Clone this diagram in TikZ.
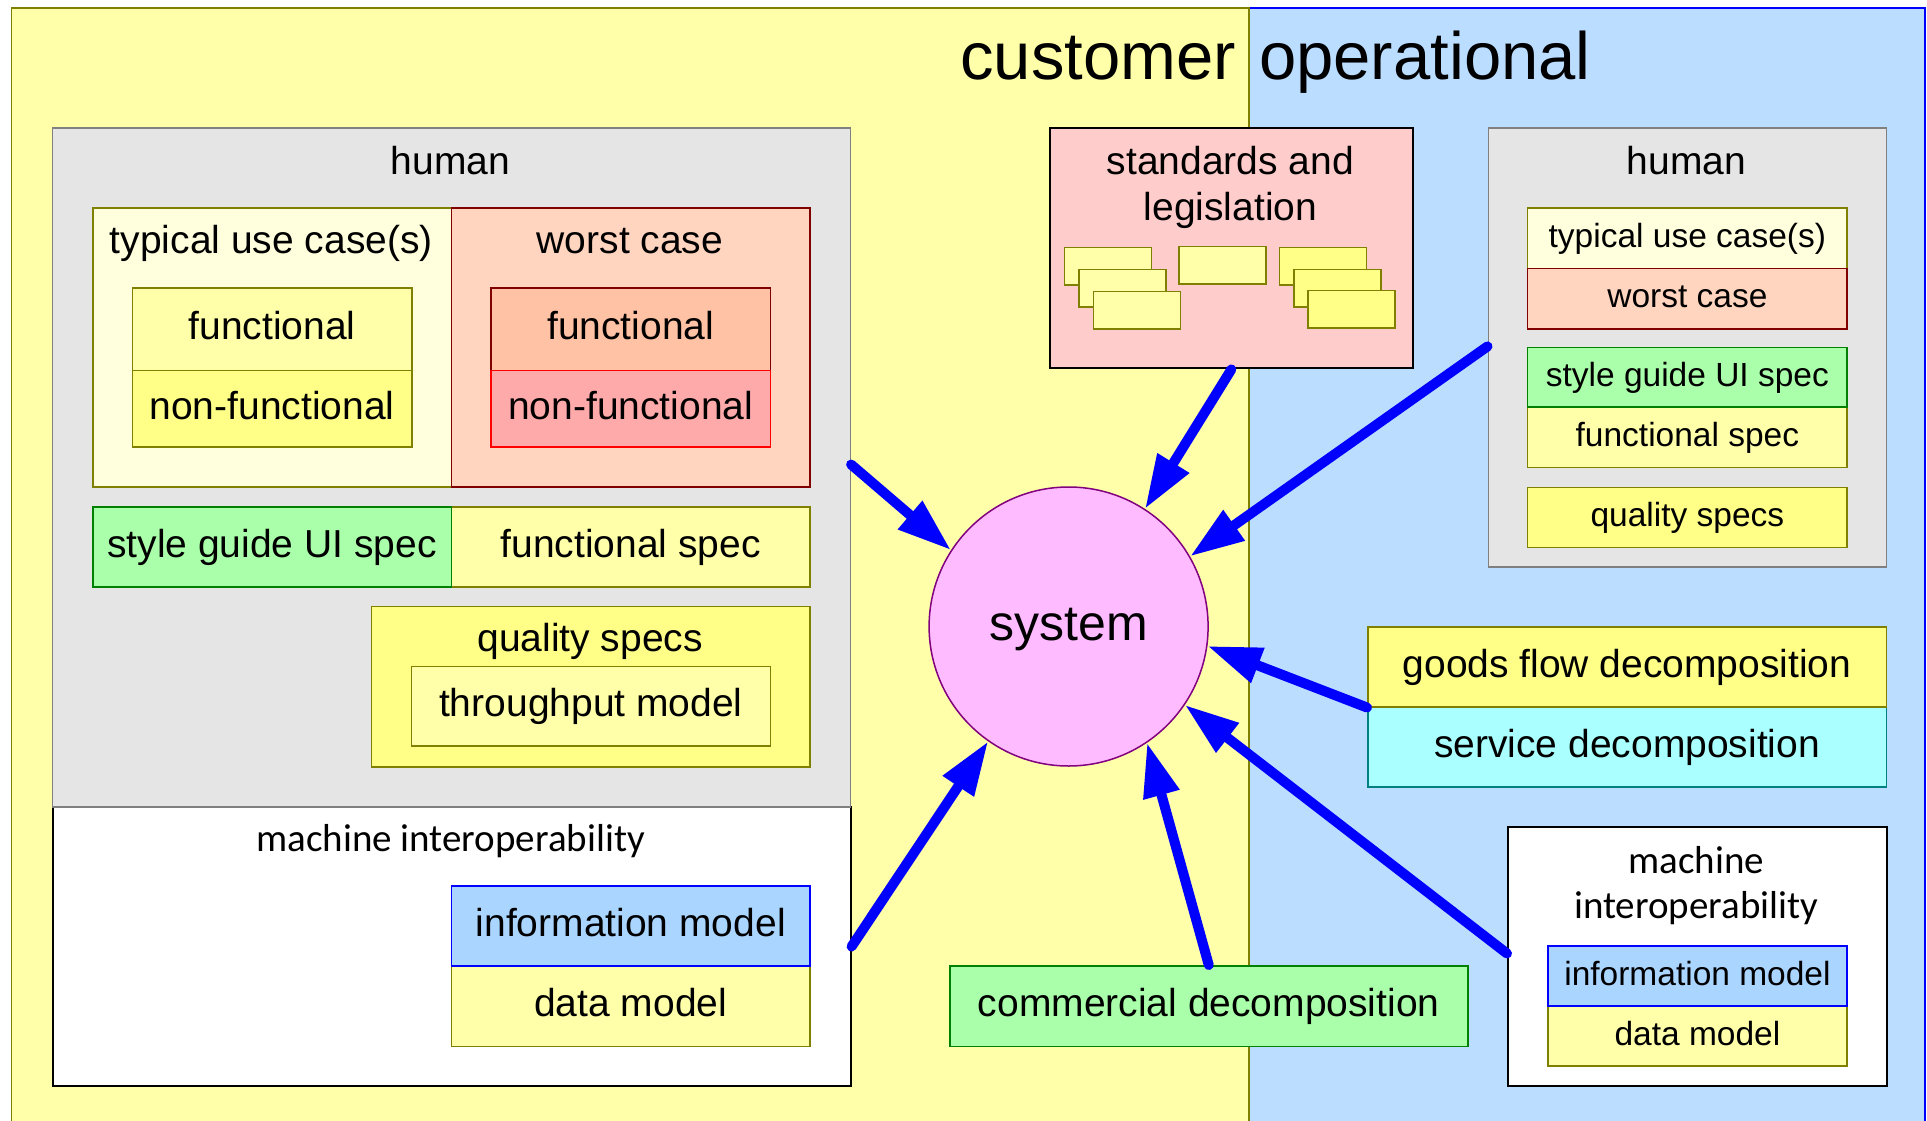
\documentclass[tikz,border=0pt]{standalone}
\usepackage{fontspec}
\setmainfont{Liberation Sans}
\newfontfamily\carlito{Carlito}
\usetikzlibrary{arrows.meta,calc}

\definecolor{cBgYel}{RGB}{255,255,170}
\definecolor{cBgBlue}{RGB}{187,221,255}
\definecolor{cOlive}{RGB}{128,128,0}
\definecolor{cPaleYel}{RGB}{255,255,221}
\definecolor{cYel}{RGB}{255,255,170}
\definecolor{cYelS}{RGB}{255,255,136}
\definecolor{cPeach}{RGB}{255,213,192}
\definecolor{cSalmon}{RGB}{255,194,164}
\definecolor{cPink}{RGB}{255,170,170}
\definecolor{cDarkRed}{RGB}{128,0,0}
\definecolor{cRed}{RGB}{255,0,0}
\definecolor{cGreenF}{RGB}{170,255,170}
\definecolor{cGreenD}{RGB}{0,128,0}
\definecolor{cCyanF}{RGB}{170,255,255}
\definecolor{cTeal}{RGB}{0,128,128}
\definecolor{cInfo}{RGB}{170,213,255}
\definecolor{cBlueD}{RGB}{0,0,255}
\definecolor{cGrayF}{RGB}{229,229,229}
\definecolor{cGrayD}{RGB}{128,128,128}
\definecolor{cStd}{RGB}{255,204,204}
\definecolor{cSysF}{RGB}{255,187,255}
\definecolor{cSysD}{RGB}{128,0,128}

\tikzset{
  bx/.style={rectangle, draw, inner sep=0pt, anchor=north west, line width=1.5pt},
  big/.style={font=\fontsize{39}{46}\selectfont, text height=28pt, text depth=7pt},
  small/.style={font=\fontsize{33.5}{40}\selectfont, text height=24.4pt, text depth=6pt},
  ttl/.style={font=\fontsize{39}{46}\selectfont, anchor=base, inner sep=0pt},
  cal/.style={font=\carlito\fontsize{39}{46}\selectfont, anchor=base, inner sep=0pt},
  yel/.style={fill=cYel, draw=cOlive},
  yels/.style={fill=cYelS, draw=cOlive},
  paleyel/.style={fill=cPaleYel, draw=cOlive},
  peach/.style={fill=cPeach, draw=cDarkRed},
  green/.style={fill=cGreenF, draw=cGreenD},
  infobox/.style={fill=cInfo, draw=cBlueD},
  graybox/.style={fill=cGrayF, draw=cGrayD},
  whitebox/.style={fill=white, draw=black, line width=2pt},
  note/.style={bx, minimum width=87pt, minimum height=37.5pt},
  arr/.style={draw=cBlueD, line width=10pt, line cap=round,
    -{Triangle[length=54pt,width=35pt]}},
}

\begin{document}
\begin{tikzpicture}[x=1pt, y=-1pt]
\useasboundingbox (0,0) rectangle (1927,1121);

% the two domains
\path[fill=cBgBlue, draw=cBlueD, line width=1.5pt] (1249,8) rectangle (1925,1130);
\path[fill=cBgYel, draw=cOlive, line width=1.5pt] (11.5,8) rectangle (1249,1130);
\node[font=\fontsize{67}{80}\selectfont, anchor=base east, inner sep=0pt] (tCustomer) at (1236,80) {customer};
\node[font=\fontsize{67}{80}\selectfont, anchor=base west, inner sep=0pt] (tOperational) at (1259,80) {operational};

% customer side: human and machine views
\node[bx, whitebox, minimum width=797.9pt, minimum height=279pt] (machL) at (51.7,806) {};
\node[bx, graybox, minimum width=797.9pt, minimum height=678.5pt] (humanL) at (51.7,127.5) {};
\node[ttl] (tHumanL) at (450.6,174.3) {human};

\node[bx, paleyel, minimum width=358.6pt, minimum height=279pt] (typL) at (92,207) {};
\node[ttl] (tTypL) at (271.3,253.6) {typical use case(s)};
\node[bx, peach, minimum width=358.8pt, minimum height=279pt] (worstL) at (450.6,207) {};
\node[ttl] (tWorstL) at (630,253.6) {worst case};

\node[bx, yel, big, minimum width=279.5pt, minimum height=82.6pt] (fnTyp) at (131.5,287) {functional};
\node[bx, yels, big, minimum width=279.5pt, minimum height=76.8pt] (nfTyp) at (131.5,369.6) {non-functional};
\node[bx, big, fill=cSalmon, draw=cDarkRed, minimum width=279.8pt, minimum height=82.6pt] (fnWorst) at (490,287) {functional};
\node[bx, big, fill=cPink, draw=cRed, minimum width=279.8pt, minimum height=76.8pt] (nfWorst) at (490,369.6) {non-functional};

\node[bx, yel, big, minimum width=358.8pt, minimum height=79.6pt] (fspecL) at (450.6,506.4) {functional spec};
\node[bx, green, big, minimum width=358.6pt, minimum height=79.6pt] (styleL) at (92,506.4) {style guide UI spec};

\node[bx, yels, minimum width=438.6pt, minimum height=160.2pt] (qualL) at (370.8,605.8) {};
\node[ttl] (tQualL) at (590.1,651.2) {quality specs};
\node[bx, yel, big, minimum width=359.3pt, minimum height=79.8pt] (thrL) at (410.5,665.5) {throughput model};

\node[cal] (tMachL) at (450.6,851.6) {machine interoperability};
\node[bx, yel, big, minimum width=358.8pt, minimum height=80.1pt] (dataL) at (450.6,965.4) {data model};
\node[bx, infobox, big, minimum width=358.8pt, minimum height=80.4pt] (infoL) at (450.6,885) {information model};

% standards and legislation
\node[bx, fill=cStd, draw=black, line width=2pt, minimum width=363.3pt, minimum height=240pt] (std) at (1048.7,127.4) {};
\node[ttl] (tStd1) at (1230.4,174.1) {standards and};
\node[ttl] (tStd2) at (1230.4,220) {legislation};
\node[note, yel] (docA1) at (1063.7,246.8) {};
\node[note, yel] (docA2) at (1078,268.6) {};
\node[note, yel] (docA3) at (1092.5,290.8) {};
\node[note, yel] (docB1) at (1178.3,245.7) {};
\node[note, yels] (docC1) at (1278.5,246.8) {};
\node[note, yels] (docC2) at (1293,268.6) {};
\node[note, yels] (docC3) at (1307,289.7) {};

% operational side: human view
\node[bx, graybox, minimum width=398.1pt, minimum height=439pt] (humanR) at (1487.5,127.4) {};
\node[ttl] (tHumanR) at (1686.5,174.1) {human};
\node[bx, paleyel, small, minimum width=319.6pt, minimum height=60.5pt] (typR) at (1526.8,207.4) {typical use case(s)};
\node[bx, peach, small, minimum width=319.6pt, minimum height=60.1pt] (worstR) at (1526.8,267.9) {worst case};
\node[bx, yel, small, minimum width=319.6pt, minimum height=60.5pt] (fspecR) at (1526.8,406.4) {functional spec};
\node[bx, green, small, minimum width=319.6pt, minimum height=59.7pt] (styleR) at (1526.8,346.7) {style guide UI spec};
\node[bx, yels, small, minimum width=319.6pt, minimum height=59.7pt] (qualR) at (1526.8,486.8) {quality specs};

% decompositions
\node[bx, big, fill=cCyanF, draw=cTeal, minimum width=518.6pt, minimum height=80.1pt] (serv) at (1367,706) {service decomposition};
\node[bx, yels, big, minimum width=518.6pt, minimum height=79.8pt] (goods) at (1367,626.2) {goods flow decomposition};
\node[bx, green, big, minimum width=518pt, minimum height=80.5pt] (comm) at (949,965) {commercial decomposition};

% operational side: machine view
\node[bx, whitebox, minimum width=378.6pt, minimum height=259.7pt] (machR) at (1507,825.5) {};
\node[cal] (tMachR1) at (1696.3,873) {machine};
\node[cal] (tMachR2) at (1696.3,918.9) {interoperability};
\node[bx, yel, small, minimum width=299.4pt, minimum height=59.8pt] (dataR) at (1547,1005.4) {data model};
\node[bx, infobox, small, minimum width=299.4pt, minimum height=60.1pt] (infoR) at (1547,945.3) {information model};

% the system
\node[circle, fill=cSysF, draw=cSysD, line width=1.5pt, inner sep=0pt, minimum size=279pt,
      font=\fontsize{50}{60}\selectfont, text height=36pt, text depth=8pt] (sys) at (1068.6,626.5) {system};

% inputs to the system
\coordinate (sHumanL) at ([yshift=-337pt]humanL.north east);
\coordinate (sHumanR) at ([yshift=-219pt]humanR.north west);
\coordinate (sMachR) at ([yshift=-128pt]machR.north west);
\draw[arr] (sHumanL) -- (sys.147.9);
\draw[arr] (std.south) -- (sys.57.9);
\draw[arr] (sHumanR) -- (sys.30.9);
\draw[arr] (goods.south west) -- (sys.-8.2);
\draw[arr] (sMachR) -- (sys.-34.6);
\draw[arr] (comm.north) -- (sys.-56.4);
\draw[arr] (machL.east) -- (sys.235);
\end{tikzpicture}
\end{document}
